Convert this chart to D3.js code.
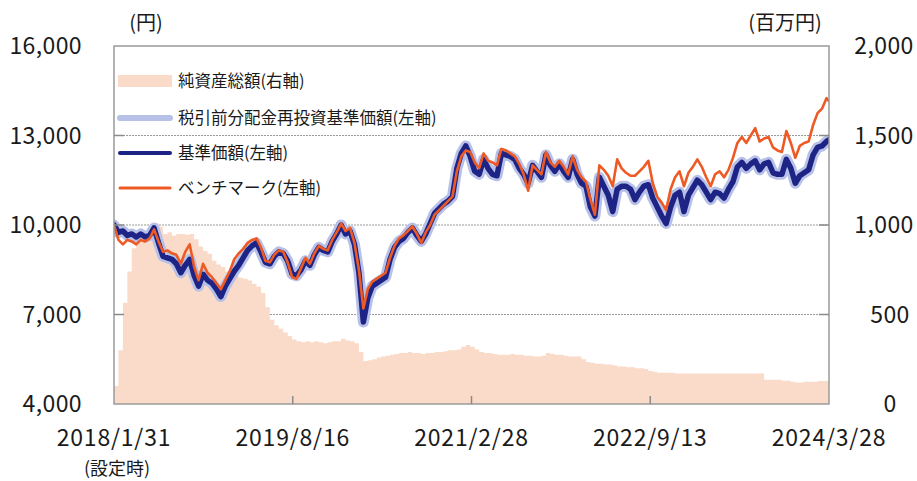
<!DOCTYPE html>
<html>
<head>
<meta charset="utf-8">
<script src="https://cdn.jsdelivr.net/npm/d3@7"></script>
<style>
  body { margin: 0; background: #fff; }
  text { font-family: "Noto Sans CJK JP", "Noto Sans", sans-serif; fill: #1a1a1a; }
</style>
</head>
<body>
<div id="chart"></div>
<script>
// dates: every 14 days from launch, plus the last day
const startDate = "2018-01-31"
const endDate = "2024-03-28"
const stepDays = 14
const tickDates = ["2018-01-31", "2019-08-16", "2021-02-28", "2022-09-13", "2024-03-28"]
const tickLabels = ["2018/1/31", "2019/8/16", "2021/2/28", "2022/9/13", "2024/3/28"]
const leftTicks = [4000, 7000, 10000, 13000, 16000]
const rightTicks = [0, 500, 1000, 1500, 2000]

// 基準価額 (円)
const nav = [
  10000,9750,9800,9650,9700,9600,9700,9600,9650,9900,
  9400,8950,8900,8850,8700,8400,8650,8850,8300,7950,
  8350,8150,8050,7850,7600,7950,8200,8450,8650,8900,
  9150,9300,9400,9100,8750,8700,8950,9100,9050,8800,
  8350,8300,8500,8800,8650,9000,9250,9150,9100,9450,
  9700,10000,9700,9800,9350,8400,6750,7550,7950,8050,
  8150,8250,8850,9250,9450,9550,9750,9900,9650,9450,
  9700,10050,10400,10550,10700,10800,10950,11900,12400,12650,
  12300,11800,11700,12200,11900,11700,11650,12400,12350,12300,
  12200,11900,11700,11400,12000,11800,11600,12350,12000,11800,
  12050,11800,11600,12200,11700,11400,11300,10600,10300,11600,
  11300,11000,10450,11200,11300,11300,11200,10850,11100,11300,
  11350,10900,10600,10300,10050,10600,11000,11100,10450,11000,
  11250,11500,11350,11100,10850,11100,11050,10900,11200,11450,
  11950,12100,11900,12050,12150,11850,12050,12100,11750,11700,
  11700,12200,11900,11400,11650,11750,11850,12350,12600,12650,
  12800,12850
]

// 税引前分配金再投資基準価額 (円) - no distributions, same path as 基準価額
const navReinvested = [
  10000,9750,9800,9650,9700,9600,9700,9600,9650,9900,
  9400,8950,8900,8850,8700,8400,8650,8850,8300,7950,
  8350,8150,8050,7850,7600,7950,8200,8450,8650,8900,
  9150,9300,9400,9100,8750,8700,8950,9100,9050,8800,
  8350,8300,8500,8800,8650,9000,9250,9150,9100,9450,
  9700,10000,9700,9800,9350,8400,6750,7550,7950,8050,
  8150,8250,8850,9250,9450,9550,9750,9900,9650,9450,
  9700,10050,10400,10550,10700,10800,10950,11900,12400,12650,
  12300,11800,11700,12200,11900,11700,11650,12400,12350,12300,
  12200,11900,11700,11400,12000,11800,11600,12350,12000,11800,
  12050,11800,11600,12200,11700,11400,11300,10600,10300,11600,
  11300,11000,10450,11200,11300,11300,11200,10850,11100,11300,
  11350,10900,10600,10300,10050,10600,11000,11100,10450,11000,
  11250,11500,11350,11100,10850,11100,11050,10900,11200,11450,
  11950,12100,11900,12050,12150,11850,12050,12100,11750,11700,
  11700,12200,11900,11400,11650,11750,11850,12350,12600,12650,
  12800,12850
]

// ベンチマーク
const bench = [
  10000,9500,9350,9500,9450,9350,9500,9450,9550,9850,
  9450,9100,9150,9050,9000,8700,9100,9350,8600,8150,
  8700,8400,8250,8050,7850,8150,8450,8850,9050,9200,
  9400,9500,9550,9250,8800,8750,9000,9150,9100,8750,
  8250,8200,8550,8900,8700,9050,9300,9200,9150,9500,
  9750,10050,9800,9900,9400,8500,7200,7850,8100,8200,
  8300,8400,8900,9300,9550,9650,9800,9950,9700,9400,
  9750,10000,10350,10500,10650,10800,10950,11800,12300,12500,
  12450,12100,11900,12400,12150,12100,12000,12550,12500,12400,
  12300,12050,11700,11150,12000,11850,11700,12450,12100,11950,
  12150,11950,11700,12300,11850,11600,11450,10850,10350,12000,
  11850,11650,11300,12200,11900,11750,11650,11650,11800,11950,
  12150,11400,10950,10750,10500,11200,11600,11800,11300,11750,
  11950,12200,11950,11600,11300,11700,11800,11600,11850,12250,
  12750,12950,12750,13000,13250,12800,12900,12950,12600,12500,
  12450,13150,12750,12250,12650,12750,12800,13350,13750,13900,
  14250,14150
]

// 純資産総額 (百万円)
const netAssets = [
  100,300,565,740,870,930,950,960,980,1010,
  990,950,960,940,950,950,945,950,920,880,
  855,840,800,780,765,740,725,715,705,700,
  690,670,655,620,540,470,440,420,400,380,
  360,350,345,350,345,350,345,340,345,350,
  350,365,355,350,340,290,240,245,250,260,
  265,270,275,280,285,285,290,285,285,280,
  285,285,290,290,295,300,300,305,320,330,
  320,305,290,285,285,280,275,275,275,280,
  275,275,270,270,265,265,270,285,280,275,
  275,270,265,265,265,250,235,230,225,225,
  220,220,215,210,210,205,205,200,200,195,
  185,180,175,175,175,175,170,170,170,170,
  170,170,170,170,170,170,170,170,170,170,
  170,170,170,170,170,170,135,135,135,135,
  130,130,125,120,120,125,125,125,128,128,
  128,128
]

const w = 917
const h = 481
const parse = d3.timeParse("%Y-%m-%d")

const dates = d3.timeDay.range(parse(startDate), parse(endDate), stepDays)
dates.push(parse(endDate))

const rows = dates.map(function(d, i){
  return {date: d, nav: nav[i], re: navReinvested[i], bench: bench[i], assets: netAssets[i]}
})

const plotL = 114, plotR = 829, plotT = 46, plotB = 404

const x = d3.scaleTime().domain([parse(startDate), parse(endDate)]).range([plotL, plotR])
const yL = d3.scaleLinear().domain([4000, 16000]).range([plotB, plotT])
const yR = d3.scaleLinear().domain([0, 2000]).range([plotB, plotT])

const svg = d3.select("#chart").append("svg")
  .attr("width", w)
  .attr("height", h)

svg.append("clipPath").attr("id", "plot")
  .append("rect")
  .attr("x", plotL).attr("y", plotT)
  .attr("width", plotR - plotL).attr("height", plotB - plotT)

// gridlines
svg.append("g")
  .selectAll("line")
  .data([7000, 10000, 13000])
  .enter().append("line")
  .attr("x1", plotL).attr("x2", plotR)
  .attr("y1", function(d){ return yL(d) }).attr("y2", function(d){ return yL(d) })
  .attr("stroke", "#9a9a9a")
  .attr("stroke-width", 1)
  .attr("stroke-dasharray", "2,1")

// net assets area
svg.append("path")
  .datum(rows)
  .attr("clip-path", "url(#plot)")
  .attr("fill", "#fadac8")
  .attr("d", d3.area()
    .curve(d3.curveStepAfter)
    .x(function(d){ return x(d.date) })
    .y0(yR(0))
    .y1(function(d){ return yR(d.assets) }))

function drawLine(key, color, width){
  svg.append("path")
    .datum(rows)
    .attr("clip-path", "url(#plot)")
    .attr("fill", "none")
    .attr("stroke", color)
    .attr("stroke-width", width)
    .attr("stroke-linejoin", "round")
    .attr("stroke-linecap", "round")
    .attr("d", d3.line()
      .x(function(d){ return x(d.date) })
      .y(function(d){ return yL(d[key]) }))
}

drawLine("re", "#b7c1e8", 11)
drawLine("nav", "#1e2386", 5.5)
drawLine("bench", "#ee5a24", 2.6)

// frame
svg.append("rect")
  .attr("x", plotL).attr("y", plotT)
  .attr("width", plotR - plotL).attr("height", plotB - plotT)
  .attr("fill", "none")
  .attr("stroke", "#9a9a9a")
  .attr("stroke-width", 1.5)

// inner ticks
const tickColor = "#8a8a8a"
svg.append("g").selectAll("line")
  .data(leftTicks.slice(1, 4))
  .enter().append("line")
  .attr("x1", plotL).attr("x2", plotL + 10)
  .attr("y1", function(d){ return yL(d) }).attr("y2", function(d){ return yL(d) })
  .attr("stroke", tickColor).attr("stroke-width", 1.5)

svg.append("g").selectAll("line")
  .data(rightTicks.slice(1, 4))
  .enter().append("line")
  .attr("x1", plotR - 10).attr("x2", plotR)
  .attr("y1", function(d){ return yR(d) }).attr("y2", function(d){ return yR(d) })
  .attr("stroke", tickColor).attr("stroke-width", 1.5)

svg.append("g").selectAll("line")
  .data(tickDates.slice(1, 4))
  .enter().append("line")
  .attr("x1", function(d){ return x(parse(d)) }).attr("x2", function(d){ return x(parse(d)) })
  .attr("y1", plotB - 8).attr("y2", plotB)
  .attr("stroke", tickColor).attr("stroke-width", 1.5)

// axis labels
const fmt = d3.format(",")
svg.append("g").selectAll("text")
  .data(leftTicks)
  .enter().append("text")
  .attr("x", 82)
  .attr("y", function(d){ return yL(d) })
  .attr("dy", "0.36em")
  .attr("text-anchor", "end")
  .attr("font-size", 23)
  .attr("letter-spacing", 0.4)
  .text(function(d){ return fmt(d) })

svg.append("g").selectAll("text")
  .data(rightTicks)
  .enter().append("text")
  .attr("x", function(d){ return d >= 1000 ? 884 : 890 })
  .attr("y", function(d){ return yR(d) })
  .attr("dy", "0.36em")
  .attr("text-anchor", "middle")
  .attr("font-size", 23)
  .attr("letter-spacing", 0.4)
  .text(function(d){ return fmt(d) })

svg.append("g").selectAll("text")
  .data(tickDates)
  .enter().append("text")
  .attr("x", function(d){ return x(parse(d)) })
  .attr("y", 446)
  .attr("text-anchor", "middle")
  .attr("font-size", 23)
  .attr("letter-spacing", 0.8)
  .text(function(d, i){ return tickLabels[i] })

svg.append("text")
  .attr("x", x(parse(startDate)) + 3)
  .attr("y", 475)
  .attr("text-anchor", "middle")
  .attr("font-size", 18)
  .text("(設定時)")

svg.append("text")
  .attr("x", 146).attr("y", 30)
  .attr("text-anchor", "middle")
  .attr("font-size", 20)
  .text("(円)")

svg.append("text")
  .attr("x", 785).attr("y", 30)
  .attr("text-anchor", "middle")
  .attr("font-size", 20)
  .text("(百万円)")

// legend
const legend = svg.append("g")
legend.append("rect")
  .attr("x", 118).attr("y", 75).attr("width", 54).attr("height", 12)
  .attr("fill", "#fadac8")
const legendLines = [
  {y: 118, color: "#b7c1e8", width: 6},
  {y: 153, color: "#1e2386", width: 4},
  {y: 188, color: "#ee5a24", width: 3}
]
legend.selectAll("line")
  .data(legendLines)
  .enter().append("line")
  .attr("x1", 120).attr("x2", 170)
  .attr("y1", function(d){ return d.y }).attr("y2", function(d){ return d.y })
  .attr("stroke", function(d){ return d.color })
  .attr("stroke-width", function(d){ return d.width })
  .attr("stroke-linecap", "round")
const legendNames = ["純資産総額(右軸)", "税引前分配金再投資基準価額(左軸)", "基準価額(左軸)", "ベンチマーク(左軸)"]
legend.selectAll("text")
  .data(legendNames)
  .enter().append("text")
  .attr("x", 178)
  .attr("y", function(d, i){ return [81, 118, 153, 188][i] })
  .attr("dy", "0.36em")
  .attr("font-size", 16.5)
  .text(function(d){ return d })
</script>
</body>
</html>
